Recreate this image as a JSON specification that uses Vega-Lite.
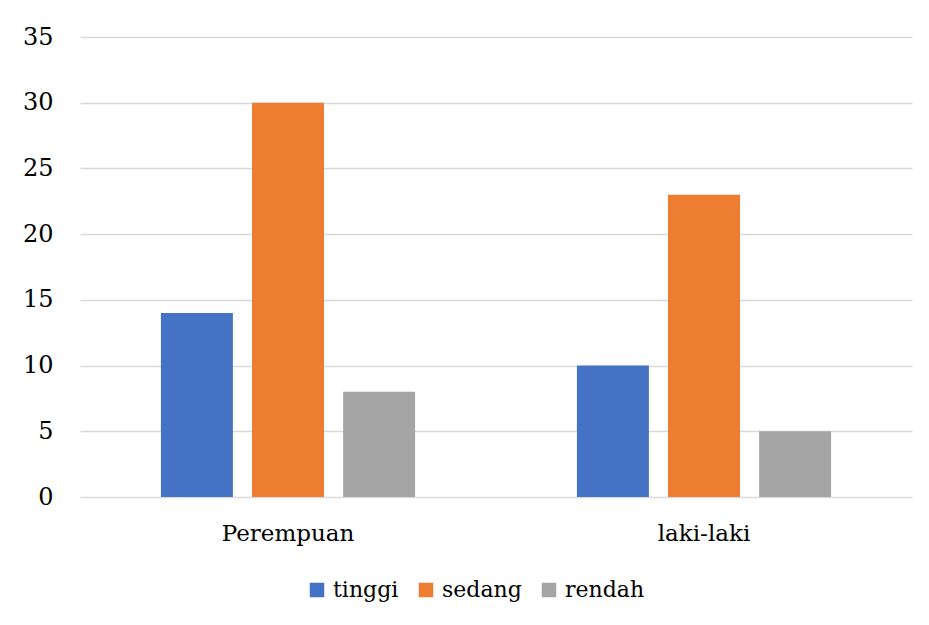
{
  "$schema": "https://vega.github.io/schema/vega-lite/v6.json",
  "width": 832,
  "height": 460,
  "autosize": "none",
  "padding": {"left": 80, "top": 37, "right": 17, "bottom": 128},
  "background": "white",
  "data": {"values": [
    {"gender": "Perempuan", "level": "tinggi", "value": 14},
    {"gender": "Perempuan", "level": "sedang", "value": 30},
    {"gender": "Perempuan", "level": "rendah", "value": 8},
    {"gender": "laki-laki", "level": "tinggi", "value": 10},
    {"gender": "laki-laki", "level": "sedang", "value": 23},
    {"gender": "laki-laki", "level": "rendah", "value": 5}
  ]},
  "mark": {"type": "bar"},
  "encoding": {
    "x": {
      "field": "gender", "type": "nominal",
      "sort": ["Perempuan", "laki-laki"],
      "scale": {"paddingInner": 0.389, "paddingOuter": 0.1945},
      "axis": {"title": null, "labelAngle": 0, "ticks": false, "domain": false, "labelPadding": 25, "labelFont": "DejaVu Serif", "labelFontSize": 23, "labelColor": "#000000"}
    },
    "xOffset": {
      "field": "level", "type": "nominal",
      "sort": ["tinggi", "sedang", "rendah"],
      "scale": {"paddingInner": 0.21, "paddingOuter": 0}
    },
    "y": {
      "field": "value", "type": "quantitative",
      "scale": {"domain": [0, 35]},
      "axis": {"title": null, "values": [0, 5, 10, 15, 20, 25, 30, 35], "ticks": false, "domain": false, "labelPadding": 27, "labelFont": "DejaVu Serif", "labelFontSize": 24, "labelColor": "#000000", "gridColor": "#d9d9d9", "gridWidth": 1.5}
    },
    "color": {
      "field": "level", "type": "nominal",
      "sort": ["tinggi", "sedang", "rendah"],
      "scale": {"domain": ["tinggi", "sedang", "rendah"], "range": ["#4472C4", "#ED7D31", "#A5A5A5"]},
      "legend": {"title": null, "orient": "none", "legendX": 226, "legendY": 542, "direction": "horizontal", "symbolType": "square", "symbolSize": 210, "symbolStrokeWidth": 0, "labelFont": "DejaVu Serif", "labelFontSize": 22, "labelColor": "#000000", "columnPadding": 16, "symbolOffset": 0, "labelOffset": 5}
    }
  },
  "config": {"view": {"stroke": null}}
}
